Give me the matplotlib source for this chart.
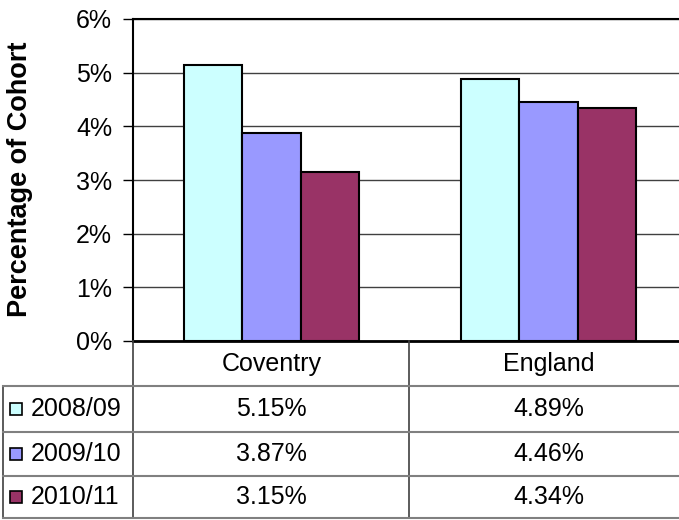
import matplotlib
matplotlib.use("Agg")
import matplotlib.pyplot as plt
from matplotlib.patches import Rectangle
from matplotlib.lines import Line2D
import matplotlib.transforms as mtransforms
import numpy as np

categories = ["Coventry", "England"]
series_names = ["2008/09", "2009/10", "2010/11"]
values = {
    "2008/09": [5.15, 4.89],
    "2009/10": [3.87, 4.46],
    "2010/11": [3.15, 4.34],
}
colors = ["#CCFFFF", "#9999FF", "#993366"]
yticks = [0, 1, 2, 3, 4, 5, 6]

plt.rcParams['font.family'] = ['Liberation Sans', 'DejaVu Sans']
FS = 18

W, H = 679, 520
fig = plt.figure(figsize=(W / 100, H / 100), dpi=100)

def fx(px):
    return px / W

def fy(py):
    return 1 - py / H

left_px, top_px, bot_px, right_px = 133, 19, 341, 687
ax = fig.add_axes([fx(left_px), fy(bot_px), fx(right_px - left_px), (bot_px - top_px) / H])

bw = 0.21
x = np.arange(len(categories))
for i, s in enumerate(series_names):
    ax.bar(x + (i - 1) * bw, values[s], width=bw, color=colors[i],
           edgecolor="black", linewidth=1.5, zorder=3)

ax.set_xlim(-0.5, len(categories) - 0.5)
ax.set_ylim(0, 6)
ax.set_yticks(yticks)
ax.set_yticklabels([f"{t}%" for t in yticks], fontsize=FS)
ax.set_xticks([])
ax.yaxis.grid(True, color="#404040", linewidth=1.0, zorder=0)
ax.tick_params(axis="y", direction="out", length=7, width=1, pad=8, colors="black")
ax.spines["right"].set_visible(False)
ax.spines["top"].set_linewidth(1.5)
ax.spines["left"].set_linewidth(1.5)
ax.spines["bottom"].set_linewidth(2)
ax.set_ylabel("Percentage of Cohort", fontsize=19.5, fontweight="bold")
ax.yaxis.set_label_coords(fx(20), fy(179), transform=fig.transFigure)
ax.yaxis.label.set_va("center")

# Data table
line_gray = "#808080"
line_dark = "#404040"
row_bounds = [386, 432, 476, 518]
fig.add_artist(Line2D([fx(left_px), fx(left_px)], [fy(bot_px), fy(518)], color=line_dark, lw=1.2))
fig.add_artist(Line2D([fx(409), fx(409)], [fy(bot_px), fy(518)], color=line_dark, lw=1.2))
fig.add_artist(Line2D([fx(3), fx(3)], [fy(386), fy(518)], color=line_dark, lw=1.2))
for yb in row_bounds:
    fig.add_artist(Line2D([fx(3), 1.0], [fy(yb), fy(yb)], color=line_gray, lw=1.5))

trans = mtransforms.blended_transform_factory(ax.transData, fig.transFigure)
for j, c in enumerate(categories):
    fig.text(0, 0, c, transform=trans, fontsize=FS, ha="center", va="center").set_position((x[j], fy(364)))

for i, s in enumerate(series_names):
    yc = (row_bounds[i] + row_bounds[i + 1]) / 2
    fig.add_artist(Rectangle((fx(10), fy(yc + 6)), fx(12), 12 / H,
                             facecolor=colors[i], edgecolor="black", lw=1.2))
    fig.text(fx(31), fy(yc), s, fontsize=FS, ha="left", va="center")
    for j, c in enumerate(categories):
        t = fig.text(0, 0, f"{values[s][j]:.2f}%", transform=trans, fontsize=FS,
                     ha="center", va="center")
        t.set_position((x[j], fy(yc)))

fig.savefig("out.png", dpi=100)
